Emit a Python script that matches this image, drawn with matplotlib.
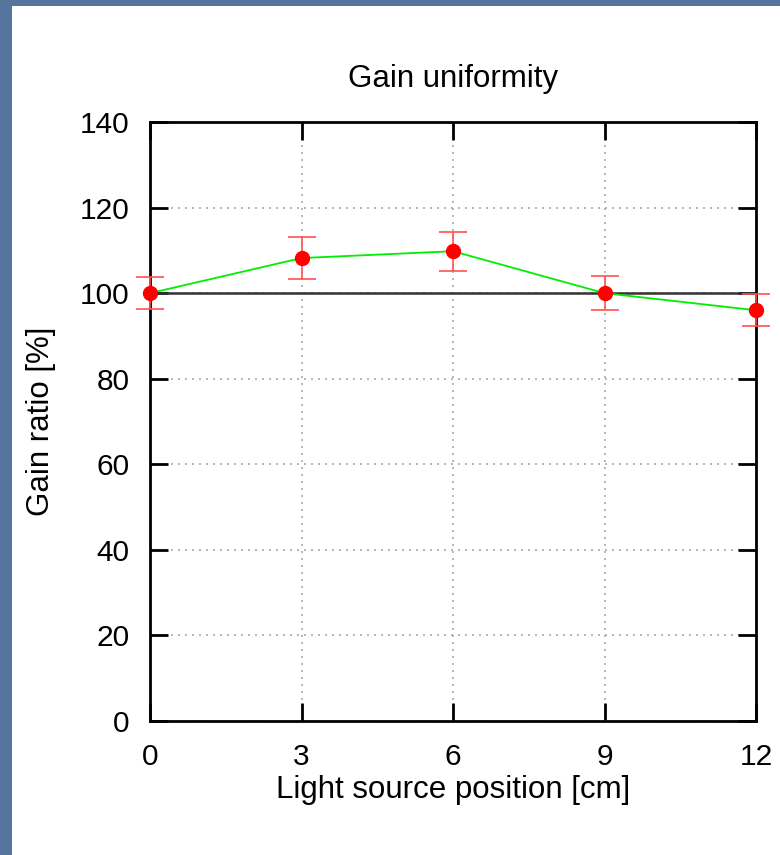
import matplotlib
matplotlib.use("Agg")
import matplotlib.pyplot as plt
from matplotlib.patches import Rectangle

plt.rcParams['font.family'] = ['Liberation Sans', 'DejaVu Sans']

positions = [0, 3, 6, 9, 12]
gain_ratio = [100.0, 108.2, 109.8, 100.0, 96.0]
gain_err = [3.7, 4.9, 4.6, 4.0, 3.7]
xticks = [0, 3, 6, 9, 12]
yticks = [0, 20, 40, 60, 80, 100, 120, 140]

W, H = 780, 855
fig = plt.figure(figsize=(W / 100, H / 100), dpi=100)
fig.patch.set_facecolor('#55759c')
fig.add_artist(Rectangle((12 / W, 0), 1 - 12 / W, 1 - 6 / H, transform=fig.transFigure,
                         facecolor='white', edgecolor='none', zorder=0))

ax = fig.add_axes([150 / W, 1 - 721 / H, (756 - 150) / W, (721 - 122) / H])
ax.set_facecolor('white')
ax.set_xlim(0, 12)
ax.set_ylim(0, 140)
ax.set_xticks(xticks)
ax.set_yticks(yticks)
ax.grid(True, color='#aaaaaa', linestyle=(0, (1.2, 3)), linewidth=1.2)
ax.axhline(100, color='#333333', linewidth=1.8, zorder=2)

ax.plot(positions, gain_ratio, color='#00ee00', linewidth=1.3, zorder=3)
ax.errorbar(positions, gain_ratio, yerr=gain_err, fmt='none', ecolor='#ff5050',
            elinewidth=1.2, capsize=10, capthick=1.2, zorder=4, clip_on=False)
ax.plot(positions, gain_ratio, 'o', color='#ff0000', markersize=10, zorder=5, clip_on=False)

for s in ax.spines.values():
    s.set_linewidth(2)
    s.set_color('black')
ax.tick_params(direction='in', length=13, width=2, top=True, right=True,
               labelsize=21.5, pad=14.5)
ax.tick_params(axis='x', pad=16)

ax.set_title('Gain uniformity', fontsize=22.5, pad=25)
ax.set_xlabel('Light source position [cm]', fontsize=22.5, labelpad=3)
ax.set_ylabel('Gain ratio [%]', fontsize=22.5, labelpad=17)

fig.savefig('out.png', dpi=100, facecolor=fig.get_facecolor())
